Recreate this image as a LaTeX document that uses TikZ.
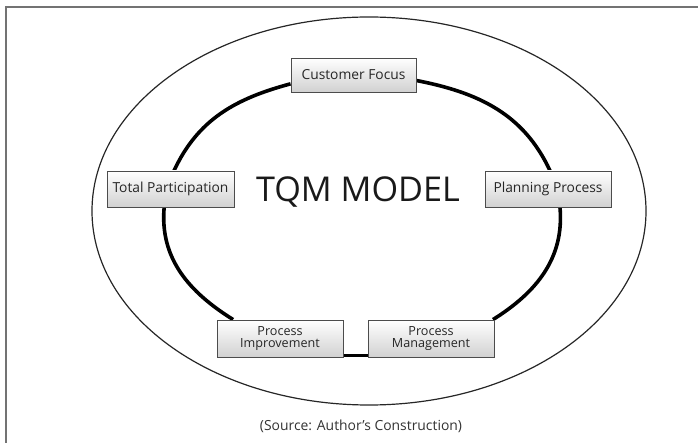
\documentclass[tikz,border=0pt]{standalone}
\usepackage{fontspec}
\setmainfont{Open Sans}
\begin{document}
\begin{tikzpicture}[x=1pt,y=1pt,
  box/.style={draw=black!70, line width=0.9pt, top color=white, bottom color=black!18,
    minimum width=#1, minimum height=35, inner sep=1pt, align=center,
    font=\fontsize{13.8}{14.5}\selectfont, text=black!85},
  box/.default=126,
  twoline/.style={font=\fontsize{12.6}{12}\selectfont},
  ring/.style={line width=3.6pt, black},
  frame/.style={line width=2.2pt, black!55}]
\useasboundingbox (0,0) rectangle (698,-443);
\draw[frame] (6,-443) -- (6,-7) -- (698,-7);
\draw[line width=1.2pt, black!85] (369,-211) ellipse [x radius=277, y radius=194];
\node[box=125, minimum height=34] (cf) at (353.5,-75) {};
\node[box=127, minimum height=36] (tp) at (170.5,-189) {};
\node[box=126, minimum height=36] (pp) at (548,-189) {};
\node[box=126, minimum height=37] (pi) at (280,-338.5) {};
\node[box=126, minimum height=37] (pm) at (431,-338.5) {};
\draw[ring] (cf.188) to[out=195,in=65] (tp.79);
\draw[ring] (tp.251) to[out=265,in=148] (pi.158);
\draw[ring] ([yshift=2pt]pi.south east) -- ([yshift=2pt]pm.south west);
\draw[ring] (pm.17) to[out=32,in=275] (pp.303);
\draw[ring] (pp.84) to[out=115,in=349] (cf.355);
\node[box=125, minimum height=34] at (cf) {Customer Focus};
\node[box=127, minimum height=36] at (tp) {Total Participation};
\node[box=126, minimum height=36] at (pp) {Planning Process};
\node[box=126, minimum height=37, twoline] at (pi) {Process\\Improvement};
\node[box=126, minimum height=37, twoline] at (pm) {Process\\Management};
\node[font=\fontsize{34.2}{36}\selectfont, text=black!90] (title) at (358,-192) {TQM MODEL};
\node[font=\fontsize{13.9}{15}\selectfont, text=black!80] (src) at (361,-426) {(Source: Author's Construction)};
\end{tikzpicture}
\end{document}
